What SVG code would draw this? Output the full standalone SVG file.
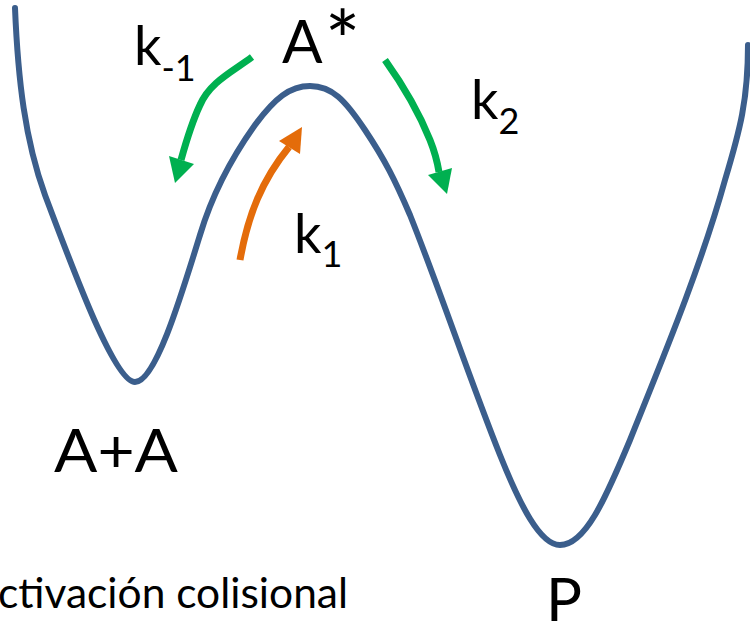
<svg xmlns="http://www.w3.org/2000/svg" width="750" height="634" viewBox="0 0 750 634">
<style>
.curve{fill:none;stroke:#3B5E8C;stroke-width:6;stroke-linecap:round;stroke-linejoin:round}
.g{fill:none;stroke:#00B050;stroke-width:7}
.gh{fill:#00B050}
.o{fill:none;stroke:#E46C0A;stroke-width:7}
.oh{fill:#E46C0A}
text{font-family:Lato,"Liberation Sans",sans-serif;fill:#000}
.big{font-size:60px}
.k{font-size:54px}
.sub{font-size:36px}
</style>
<rect width="750" height="634" fill="#fff"/>
<g id="potential">
<path class="curve" d="M15,8 C18,80 25,140 45,195 C75,275 115,382 135,382 C155,382 180,300 200,235 C212,195 230,160 255,125 C275,98 290,86 310,86 C332,86 345,100 365,130 C385,160 395,180 410,215 C440,290 470,380 500,455 C520,505 540,545 560,545 C585,545 605,500 630,440 C660,365 700,270 725,180 C740,130 748,100 748,45"/>
</g>
<g id="connectors">
<path class="o" d="M240,260 C248,215 262,180 289,147"/>
<polygon class="oh" points="302,127 279,141 300,154"/>
<path class="g" d="M252,57 C232,72 210,82 200,105 C192,122 186,142 181,160"/>
<polygon class="gh" points="175,183 169,156 194,164"/>
<path class="g" d="M385,60 C405,88 420,115 430,140 C434,150 437,160 439,172"/>
<polygon class="gh" points="447,194 428,175 452,168"/>
</g>
<g id="label-Astar"><text class="big" x="282" y="63">A<tspan font-size="84" dx="2" dy="8">*</tspan></text></g>
<g id="label-kminus1"><text class="k" x="134" y="65">k<tspan class="sub" dy="16">-1</tspan></text></g>
<g id="label-k2"><text class="k" x="471" y="119">k<tspan class="sub" dy="15">2</tspan></text></g>
<g id="label-k1"><text class="k" x="294" y="253">k<tspan class="sub" dy="14">1</tspan></text></g>
<g id="label-AA"><text class="big" x="54" y="472" textLength="124" lengthAdjust="spacingAndGlyphs">A+A</text></g>
<g id="label-P"><text class="big" x="546" y="621">P</text></g>
<g id="label-activacion"><text x="-2" y="608" font-size="42" textLength="350" lengthAdjust="spacingAndGlyphs">ctivación colisional</text></g>
</svg>
